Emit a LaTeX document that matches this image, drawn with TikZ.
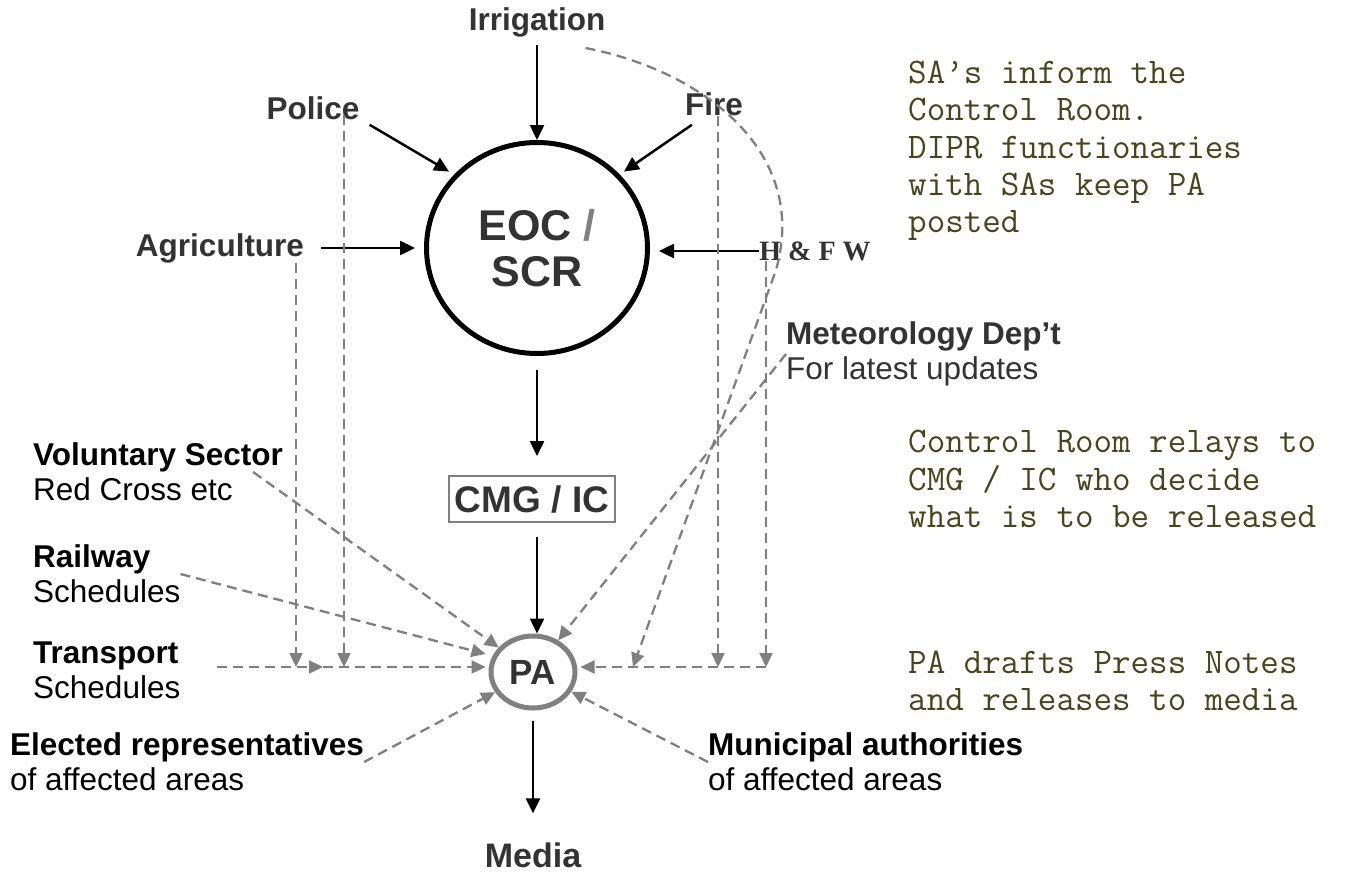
\documentclass[tikz,border=0pt]{standalone}
\usepackage{fontspec}
\setmainfont{Liberation Sans}
\newfontfamily\hfwfont{Liberation Serif}
\usetikzlibrary{arrows.meta,shapes.geometric,calc}
\definecolor{txt}{HTML}{333333}
\definecolor{dgray}{HTML}{808080}
\definecolor{notecol}{HTML}{46461E}
\begin{document}
\begin{tikzpicture}[x=1pt,y=-1pt,
  lbl/.style={font=\fontsize{31.5}{35}\selectfont\bfseries, text=txt, inner sep=0pt},
  blk/.style={font=\fontsize{31.5}{35}\selectfont, align=left, anchor=west, inner sep=0pt},
  note/.style={font=\ttfamily\fontsize{36}{37.3}\selectfont, text=notecol, align=left, anchor=west, inner sep=0pt},
  arr/.style={line width=2.5pt, -{Triangle[length=15pt,width=14pt]}},
  darr/.style={draw=dgray, line width=2.3pt, dash pattern=on 10pt off 6pt, -{Triangle[length=14pt,width=13pt]}}
]
\useasboundingbox (0,0) rectangle (1346,875);
\fill[white] (0,0) rectangle (1346,875);

% main nodes
\node[lbl] (irr) at (537,22) {Irrigation};
\node[lbl] (police) at (313,108) {Police};
\node[lbl] (fire) at (714,104) {Fire};
\node[lbl] (agri) at (220,248) {Agriculture};
\node[font=\hfwfont\bfseries\fontsize{28}{30}\selectfont, text=txt, inner sep=0pt] (hfw) at (815,251) {H \& F W};
\node[draw, ellipse, line width=5pt, minimum width=221pt, minimum height=211pt, inner sep=0pt, align=center, font=\fontsize{43}{46}\selectfont\bfseries, text=txt] (eoc) at (537,248) {EOC {\color{dgray}/}\\SCR};
\node[draw=dgray, line width=2pt, minimum width=166pt, minimum height=46pt, inner sep=0pt, font=\fontsize{37}{38}\selectfont\bfseries, text=txt] (cmg) at (532,499) {CMG / IC};
\node[draw=dgray, ellipse, line width=5pt, minimum width=84pt, minimum height=72pt, inner sep=0pt, font=\fontsize{35}{36}\selectfont\bfseries, text=txt] (pa) at (533,672) {PA};
\node[lbl, font=\fontsize{34}{36}\selectfont\bfseries] (media) at (533,855) {Media};

% side labels
\node[blk] (vol) at (33,472) {\textbf{Voluntary Sector}\\Red Cross etc};
\node[blk] (rail) at (33,574) {\textbf{Railway}\\Schedules};
\node[blk] (trans) at (33,670) {\textbf{Transport}\\Schedules};
\node[blk] (elect) at (10,762) {\textbf{Elected representatives}\\of affected areas};
\node[blk] (muni) at (708,762) {\textbf{Municipal authorities}\\of affected areas};
\node[blk, text=txt] (met) at (786,354) {\textbf{Meteorology Dep’t}\\For latest updates};

% notes
\node[note] (n1) at (908,151) {SA’s inform the\\Control Room.\\DIPR functionaries\\with SAs keep PA\\posted};
\node[note] (n2) at (908,479) {Control Room relays to\\CMG / IC who decide\\what is to be released};
\node[note] (n3) at (908,681) {PA drafts Press Notes\\and releases to media};

% junction coordinates
\coordinate (jl1) at (296,667);
\coordinate (jm) at (323,667);
\coordinate (jl2) at (344,667);
\coordinate (jr0) at (633,667);
\coordinate (jr1) at (718,667);
\coordinate (jr2) at (766,667);

% black arrows
\draw[arr, shorten <=8pt] (irr) -- (eoc);
\draw[arr] ([xshift=10pt,yshift=-5pt]police.south east) -- ([xshift=-8pt]eoc.north west);
\draw[arr] ([xshift=7pt,yshift=-9pt]fire.south west) -- ([xshift=7pt]eoc.north east);
\draw[arr, shorten <=17pt, shorten >=9pt] (agri.east) -- (eoc.west);
\draw[arr, shorten >=9pt] (hfw.west) -- (hfw.west -| eoc.east);
\draw[arr, shorten <=14pt, shorten >=19pt] (eoc.south) -- (eoc.south |- cmg.north);
\draw[arr, shorten <=14pt] (eoc.south |- cmg.south) -- (eoc.south |- pa.north);
\draw[arr, shorten <=10pt, shorten >=29pt] (pa) -- (media);

% dashed grey arrows
\draw[darr] ([xshift=76pt]agri.south) -- (jl1);
\draw[darr] ([xshift=31pt,yshift=5pt]police.south) -- (jl2);
\draw[darr] ([xshift=4pt]fire.south) -- (jr1);
\draw[darr] ([xshift=-49pt]hfw.south) -- (jr2);
\draw[darr] ([xshift=36pt,yshift=3pt]trans.east) -- (jm);
\draw[darr, shorten >=3pt] (jm) -- (jm -| pa.west);
\draw[darr, shorten >=3pt] (jr2) -- (jr2 -| pa.east);
\draw[darr] ([xshift=-20pt,yshift=-26pt]irr.east) .. controls (700,70) and (810,150) .. (776,270) -- (jr0);
\draw[darr] (met.west) -- (pa);
\draw[darr] ([xshift=-30pt]vol.east) -- (pa);
\draw[darr] (rail.east) -- ([xshift=-3pt,yshift=18pt]pa.west);
\draw[darr] (elect.east) -- (pa);
\draw[darr] (muni.west) -- (pa);
\end{tikzpicture}
\end{document}
